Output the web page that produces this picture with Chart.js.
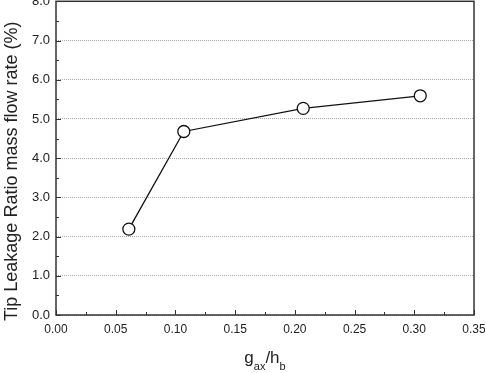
<!DOCTYPE html>
<html>
<head>
<meta charset="utf-8">
<script src="https://cdn.jsdelivr.net/npm/chart.js@4/dist/chart.umd.min.js"></script>
<style>
  html, body { margin: 0; padding: 0; background: #fff; overflow: hidden; }
  #caixa { position: absolute; left: 0; top: -6px; width: 485px; height: 379px; }
</style>
</head>
<body>
<div id="caixa"><canvas id="myChart" width="485" height="379"></canvas></div>
<script>
// valores
let gapX = [0.061, 0.107, 0.207, 0.305];
let leakage = [2.19, 4.68, 5.27, 5.59];

let xTicks = [0.00, 0.05, 0.10, 0.15, 0.20, 0.25, 0.30, 0.35];
let yTicks = [0.0, 1.0, 2.0, 3.0, 4.0, 5.0, 6.0, 7.0, 8.0];

let yTitle = 'Tip Leakage Ratio mass flow rate (%)';

let fonte = '"Liberation Sans", Arial, sans-serif';

// moldura, marcas para dentro e titulos dos eixos
let molduraPlugin = {
    id: 'moldura',
    afterDraw: function(chart){
        let c = chart.ctx;
        let area = chart.chartArea;
        let sx = chart.scales.x;
        let sy = chart.scales.y;

        c.save();
        c.strokeStyle = '#333';
        c.lineWidth = 1;

        // marcas do eixo x
        for(count = 0; count < xTicks.length; count++){
            let px = Math.round(sx.getPixelForValue(xTicks[count])) + 0.5;
            c.beginPath();
            c.moveTo(px, area.bottom);
            c.lineTo(px, area.bottom - 5);
            c.stroke();
            if(count < xTicks.length - 1){
                let meio = Math.round(sx.getPixelForValue((xTicks[count] + xTicks[count+1]) / 2)) + 0.5;
                c.beginPath();
                c.moveTo(meio, area.bottom);
                c.lineTo(meio, area.bottom - 3);
                c.stroke();
            }
        }

        // marcas do eixo y
        for(count = 0; count < yTicks.length; count++){
            let py = Math.round(sy.getPixelForValue(yTicks[count])) + 0.5;
            c.beginPath();
            c.moveTo(area.left, py);
            c.lineTo(area.left + 5, py);
            c.stroke();
            if(count < yTicks.length - 1){
                let meio = Math.round(sy.getPixelForValue((yTicks[count] + yTicks[count+1]) / 2)) + 0.5;
                c.beginPath();
                c.moveTo(area.left, meio);
                c.lineTo(area.left + 3, meio);
                c.stroke();
            }
        }

        // moldura
        c.lineWidth = 1.5;
        c.strokeRect(area.left, area.top, area.right - area.left, area.bottom - area.top);

        // titulo y
        c.fillStyle = '#222';
        c.font = '18px ' + fonte;
        c.textAlign = 'center';
        c.textBaseline = 'middle';
        c.translate(12, area.top + 170);
        c.rotate(-Math.PI / 2);
        c.fillText(yTitle, 0, 0);
        c.restore();

        // titulo x com subscritos: g_ax / h_b
        c.save();
        c.fillStyle = '#222';
        c.textBaseline = 'alphabetic';
        c.textAlign = 'left';
        let partes = [['g', 17, 0], ['ax', 11, 7], ['/h', 17, 0], ['b', 11, 7]];
        let total = 0;
        for(count = 0; count < partes.length; count++){
            c.font = partes[count][1] + 'px ' + fonte;
            total += c.measureText(partes[count][0]).width;
        }
        let posX = (area.left + area.right) / 2 - total / 2;
        for(count = 0; count < partes.length; count++){
            c.font = partes[count][1] + 'px ' + fonte;
            c.fillText(partes[count][0], posX, area.bottom + 48 + partes[count][2]);
            posX += c.measureText(partes[count][0]).width;
        }
        c.restore();
    }
};

var ctx = document.getElementById('myChart').getContext('2d');

var myChart = new Chart(ctx, {
    type: 'scatter',
    data: {
        datasets: [{
            data: gapX.map(function(v, i){ return {x: v, y: leakage[i]}; }),
            showLine: true,
            borderColor: '#111',
            borderWidth: 1.3,
            pointRadius: 6,
            pointBorderWidth: 1.3,
            pointBackgroundColor: '#fff',
            pointBorderColor: '#111'
        }]
    },
    options: {
        responsive: false,
        animation: false,
        layout: { padding: { top: 1, right: 11, left: 0, bottom: 0 } },
        plugins: {
            legend: { display: false },
            tooltip: { enabled: false }
        },
        scales: {
            x: {
                type: 'linear',
                min: 0,
                max: 0.35,
                afterBuildTicks: function(scale){
                    scale.ticks = xTicks.map(function(v){ return {value: v}; });
                },
                afterFit: function(scale){
                    scale.height = 58;
                    scale.paddingLeft = 0;
                    scale.paddingRight = 0;
                },
                ticks: {
                    padding: 7,
                    color: '#222',
                    font: { family: fonte, size: 12 },
                    maxRotation: 0,
                    autoSkip: false,
                    callback: function(v){ return Number(v).toFixed(2); }
                },
                grid: { display: false, drawTicks: false },
                border: { display: false }
            },
            y: {
                min: 0,
                max: 8,
                afterBuildTicks: function(scale){
                    scale.ticks = yTicks.map(function(v){ return {value: v}; });
                },
                afterFit: function(scale){
                    scale.width = 56;
                    scale.paddingTop = 0;
                    scale.paddingBottom = 0;
                },
                ticks: {
                    padding: 6,
                    color: '#222',
                    font: { family: fonte, size: 13 },
                    autoSkip: false,
                    callback: function(v){ return Number(v).toFixed(1); }
                },
                grid: {
                    drawTicks: false,
                    color: '#aaa',
                    lineWidth: 1
                },
                border: { display: false, dash: [1, 1] }
            }
        }
    },
    plugins: [molduraPlugin]
});
</script>
</body>
</html>
